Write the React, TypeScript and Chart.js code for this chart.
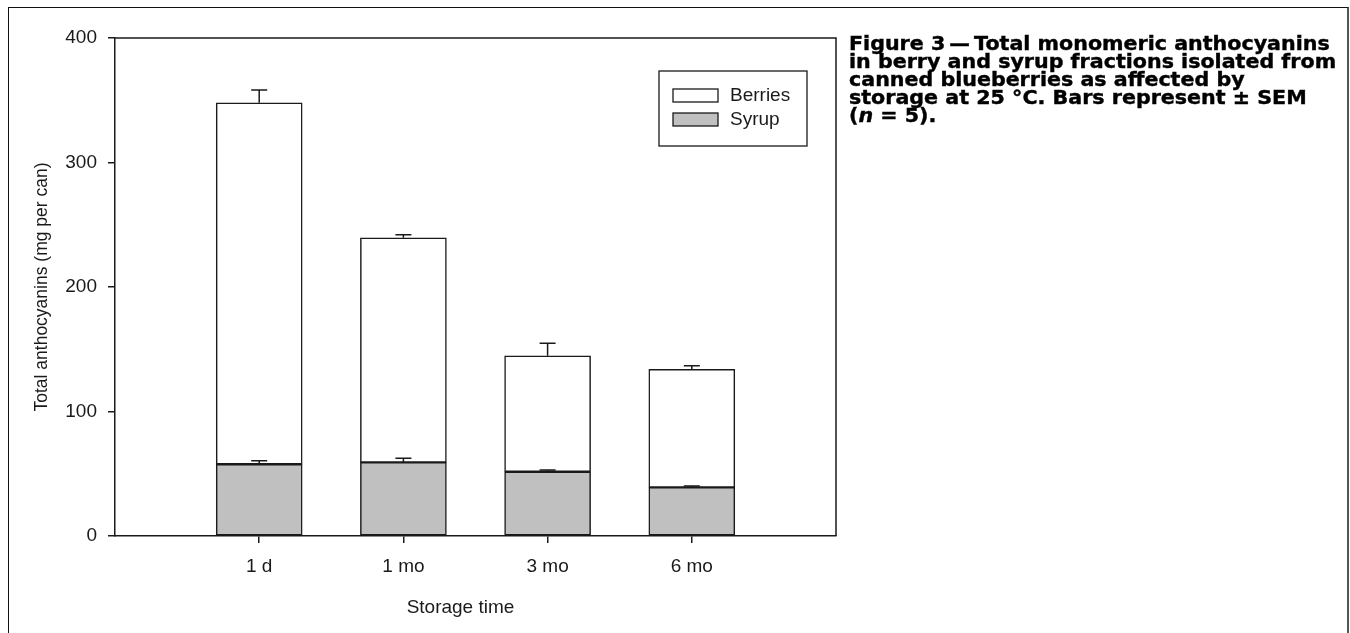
import React, { useEffect, useRef } from "react";
import { Chart, registerables } from "chart.js";

Chart.register(...registerables);

// ---- Data ----
const categories = ["", "1 d", "1 mo", "3 mo", "6 mo", ""];
const syrupValues = [null, 57.6, 59.2, 51.6, 39.1, null];
const syrupSem = [null, 2.9, 3.2, 1.4, 1.1, null];
const berriesValues = [null, 290.4, 180.3, 93.2, 94.8, null];
const berriesSem = [null, 10.2, 2.4, 10.0, 2.9, null];
const yTicks = [0, 100, 200, 300, 400];

const seriesNames = ["Syrup", "Berries"];
const xTitle = "Storage time";
const yTitle = "Total anthocyanins (mg per can)";
const captionLines = [
  "Figure 3\u2009\u2014\u2009Total monomeric anthocyanins",
  "in berry and syrup fractions isolated from",
  "canned blueberries as affected by",
  "storage at 25 \u00B0C. Bars represent \u00B1 SEM",
];

const FONT = '"Liberation Sans", Arial, sans-serif';
const INK = "#1a1a1a";

const errorBarPlugin = {
  id: "errorBars",
  afterDatasetsDraw(chart: any) {
    const { ctx } = chart;
    const yScale = chart.scales.y;
    const sems = [syrupSem, berriesSem];
    const cumulative: number[] = categories.map(() => 0);
    chart.data.datasets.forEach((ds: any, di: number) => {
      const meta = chart.getDatasetMeta(di);
      meta.data.forEach((el: any, i: number) => {
        const v = ds.data[i];
        if (v == null) return;
        cumulative[i] += v;
        const sem = sems[di][i];
        if (sem == null) return;
        const yTop = yScale.getPixelForValue(cumulative[i] + sem);
        const yBase = yScale.getPixelForValue(cumulative[i]);
        ctx.save();
        ctx.strokeStyle = INK;
        ctx.lineWidth = 1.5;
        ctx.beginPath();
        ctx.moveTo(el.x, yBase);
        ctx.lineTo(el.x, yTop);
        ctx.moveTo(el.x - 8, yTop);
        ctx.lineTo(el.x + 8, yTop);
        ctx.stroke();
        ctx.restore();
      });
    });
  },
};

const framePlugin = {
  id: "frame",
  afterDraw(chart: any) {
    const { ctx, chartArea: a } = chart;
    ctx.save();
    ctx.strokeStyle = INK;
    ctx.lineWidth = 1.5;
    ctx.beginPath();
    ctx.moveTo(a.left, a.top);
    ctx.lineTo(a.right, a.top);
    ctx.lineTo(a.right, a.bottom);
    ctx.stroke();

    // x axis title
    ctx.fillStyle = INK;
    ctx.font = `19px ${FONT}`;
    ctx.textAlign = "center";
    ctx.textBaseline = "middle";
    ctx.fillText(xTitle, (a.left + a.right) / 2 - 15, a.bottom + 72);

    // legend
    const lx = a.right - 177;
    const ly = a.top + 33;
    ctx.lineWidth = 1.3;
    ctx.strokeRect(lx, ly, 148, 75);
    const items = [
      { label: seriesNames[1], fill: "#ffffff", y: ly + 18 },
      { label: seriesNames[0], fill: "#c0c0c0", y: ly + 42 },
    ];
    items.forEach((it) => {
      ctx.fillStyle = it.fill;
      ctx.fillRect(lx + 14, it.y, 45, 13);
      ctx.strokeRect(lx + 14, it.y, 45, 13);
      ctx.fillStyle = INK;
      ctx.textAlign = "left";
      ctx.textBaseline = "middle";
      ctx.fillText(it.label, lx + 71, it.y + 7);
    });
    ctx.restore();
  },
};

export default function App() {
  const canvasRef = useRef<HTMLCanvasElement | null>(null);

  useEffect(() => {
    const canvas = canvasRef.current;
    if (!canvas) return;
    const chart = new Chart(canvas, {
      type: "bar",
      data: {
        labels: categories,
        datasets: [
          {
            label: seriesNames[0],
            data: syrupValues as any,
            backgroundColor: "#c0c0c0",
            borderColor: INK,
            borderWidth: 1.5,
            borderSkipped: false,
            barThickness: 86,
          },
          {
            label: seriesNames[1],
            data: berriesValues as any,
            backgroundColor: "#ffffff",
            borderColor: INK,
            borderWidth: 1.5,
            borderSkipped: false,
            barThickness: 86,
          },
        ],
      },
      options: {
        responsive: false,
        animation: false,
        devicePixelRatio: 1,
        layout: { padding: { top: 38, right: 14, left: 0, bottom: 0 } },
        plugins: {
          legend: { display: false },
          tooltip: { enabled: false },
        },
        scales: {
          x: {
            type: "category",
            stacked: true,
            offset: false,
            grid: {
              offset: false,
              drawOnChartArea: false,
              drawTicks: true,
              tickLength: 7,
              lineWidth: 1.5,
              color: (c: any) =>
                c.index === 0 || c.index === categories.length - 1 ? "rgba(0,0,0,0)" : INK,
            },
            border: { display: true, color: INK, width: 1.5 },
            ticks: {
              autoSkip: false,
              maxRotation: 0,
              padding: 12,
              color: INK,
              font: { size: 19, family: FONT },
            },
            afterFit: (s: any) => {
              s.height = 97;
            },
          },
          y: {
            stacked: true,
            min: 0,
            max: 400,
            afterBuildTicks: (s: any) => {
              s.ticks = yTicks.map((v) => ({ value: v }));
            },
            grid: {
              drawOnChartArea: false,
              drawTicks: true,
              tickLength: 7,
              lineWidth: 1.5,
              color: INK,
            },
            border: { display: true, color: INK, width: 1.5 },
            ticks: {
              padding: 11,
              color: INK,
              font: { size: 19, family: FONT },
            },
            title: {
              display: true,
              text: yTitle,
              color: INK,
              font: { size: 17.5, family: FONT },
              padding: { top: 32, bottom: 0 },
            },
            afterFit: (s: any) => {
              s.width = 115;
            },
          },
        },
      },
      plugins: [errorBarPlugin, framePlugin],
    });
    return () => chart.destroy();
  }, []);

  return (
    <div
      style={{
        position: "fixed",
        left: 0,
        top: 0,
        width: 1350,
        height: 633,
        overflow: "hidden",
        background: "#ffffff",
      }}
    >
      <div
        style={{
          position: "absolute",
          left: 8,
          top: 7,
          width: 1338,
          height: 700,
          borderLeft: "1px solid #111",
          borderTop: "1px solid #111",
          borderRight: "2px solid #555",
        }}
      />
      <canvas
        ref={canvasRef}
        width={850}
        height={633}
        style={{ position: "absolute", left: 0, top: 0, width: 850, height: 633 }}
      />
      <div
        style={{
          position: "absolute",
          left: 849,
          top: 34,
          fontFamily: '"DejaVu Sans", sans-serif',
          fontWeight: 700,
          fontSize: 19,
          lineHeight: "18px",
          color: "#000",
          whiteSpace: "nowrap",
          transform: "scaleX(1.085)",
          transformOrigin: "left top",
          WebkitTextStroke: "0.4px #000",
        }}
      >
        {captionLines.map((l, i) => (
          <div key={i}>{l}</div>
        ))}
        <div>
          (<i>n</i> = 5).
        </div>
      </div>
    </div>
  );
}
